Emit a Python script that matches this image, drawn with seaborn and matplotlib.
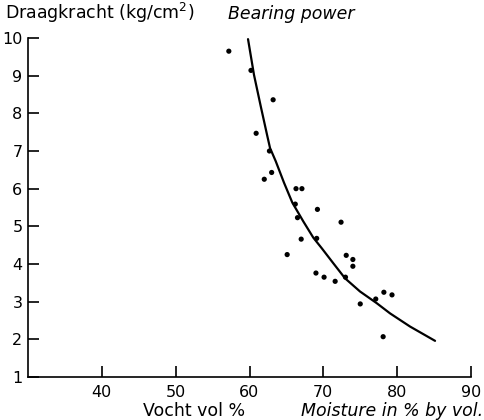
import numpy as np
import pandas as pd
import matplotlib
matplotlib.use('Agg')
import matplotlib.pyplot as plt
import seaborn as sns

moisture = [57.2, 60.2, 63.2, 60.9, 62.7, 63.0, 62.0, 66.3, 67.1, 66.2, 66.5,
            69.2, 67.0, 69.1, 72.4, 65.1, 73.1, 74.0, 74.0, 69.0, 70.1, 71.6,
            73.0, 75.0, 77.1, 78.2, 79.3, 78.1]
bearing = [9.65, 9.14, 8.36, 7.47, 7.0, 6.43, 6.25, 6.0, 6.0, 5.59, 5.23,
           5.45, 4.66, 4.68, 5.11, 4.25, 4.23, 4.12, 3.94, 3.76, 3.65, 3.54,
           3.65, 2.94, 3.07, 3.25, 3.18, 2.07]

# hand-drawn fitted curve
curve_x = [59.80, 60.61, 61.52, 62.41, 62.78, 63.55, 64.67, 65.80, 67.29,
           68.64, 69.78, 71.35, 72.94, 74.97, 77.23, 79.03, 81.74, 85.13]
curve_y = [9.97, 9.02, 8.19, 7.40, 7.08, 6.73, 6.16, 5.63, 5.13,
           4.70, 4.42, 4.02, 3.62, 3.27, 2.96, 2.69, 2.34, 1.96]

x_ticks = [40, 50, 60, 70, 80, 90]
y_ticks = [1, 2, 3, 4, 5, 6, 7, 8, 9, 10]

sns.set_style('ticks', {'text.color': 'black', 'xtick.color': 'black',
                        'ytick.color': 'black', 'axes.edgecolor': 'black'})
plt.rcParams['font.family'] = ['DejaVu Sans']

df = pd.DataFrame({'moisture': moisture, 'bearing': bearing})
fit = pd.DataFrame({'x': curve_x, 'y': curve_y})

fig = plt.figure(figsize=(4.84, 4.20), dpi=100)
ax = fig.add_axes([28 / 484, 1 - 377 / 420, (471 - 28) / 484, (377 - 38) / 420])

sns.scatterplot(data=df, x='moisture', y='bearing', ax=ax, color='black',
                s=14, edgecolor='none')
sns.lineplot(data=fit, x='x', y='y', ax=ax, color='black', linewidth=1.6,
             estimator=None)

ax.set_xlim(30, 90)
ax.set_ylim(1, 10)
ax.set_xticks(x_ticks)
ax.set_yticks(y_ticks)
ax.tick_params(direction='in', length=8, width=1.2, labelsize=11.5,
               colors='black')
ax.tick_params(axis='x', pad=6)
ax.tick_params(axis='y', pad=4)
ax.set_xlabel('')
ax.set_ylabel('')
sns.despine(ax=ax)
for s in ['left', 'bottom']:
    ax.spines[s].set_linewidth(1.2)

fig.text(5 / 484, 1 - 19 / 420, 'Draagkracht (kg/cm$^2$)', fontsize=12.5,
         va='baseline', ha='left')
fig.text(228 / 484, 1 - 19 / 420, 'Bearing power', fontsize=12.5,
         style='italic', va='baseline', ha='left')
fig.text(143 / 484, 1 - 416 / 420, 'Vocht vol %', fontsize=12.5,
         va='baseline', ha='left')
fig.text(483 / 484, 1 - 416 / 420, 'Moisture in % by vol.', fontsize=12.5,
         style='italic', va='baseline', ha='right')

fig.savefig('out.png', dpi=100)
